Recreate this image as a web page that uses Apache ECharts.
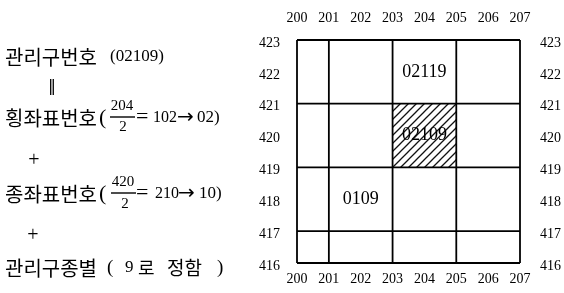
<!DOCTYPE html>
<html>
<head>
<meta charset="utf-8">
<script src="https://cdn.jsdelivr.net/npm/echarts@6/dist/echarts.min.js"></script>
<style>
html,body{margin:0;padding:0;background:#fff;}
#chart{width:564px;height:293px;}
</style>
</head>
<body>
<div id="chart"></div>
<script>
// 좌표 눈금
var xTicks = [200, 201, 202, 203, 204, 205, 206, 207];
var yTicks = [416, 417, 418, 419, 420, 421, 422, 423];
// 구획선 위치
var vLines = [200, 201, 203, 205, 207];
var hLines = [416, 417, 419, 421, 423];
// 빗금 칸 [x0, y0, x1, y1]
var hatchCell = [[203, 419, 205, 421]];
// 칸 번호 [x, y, 번호]
var cellLabels = [[204, 422, '02119'], [204, 420, '02109'], [202, 418, '0109']];

var xMin = xTicks[0], xMax = xTicks[xTicks.length - 1];
var yMin = yTicks[0], yMax = yTicks[yTicks.length - 1];

var serif = '"Liberation Serif", "Noto Sans CJK KR", serif';
var kr = '"Noto Sans CJK KR", sans-serif';
var sym = '"DejaVu Sans", sans-serif';
var ink = '#000';

function hatchImg() {
    var c = document.createElement('canvas');
    c.width = 8; c.height = 8;
    var g = c.getContext('2d');
    g.strokeStyle = '#111';
    g.lineWidth = 1.3;
    g.beginPath();
    g.moveTo(0, 8); g.lineTo(8, 0);
    g.moveTo(-2, 2); g.lineTo(2, -2);
    g.moveTo(6, 10); g.lineTo(10, 6);
    g.stroke();
    return c;
}

var chart = echarts.init(document.getElementById('chart'));

var lineStyle = { color: ink, width: 1.8 };
var series = [];
series.push({
    type: 'custom',
    silent: true,
    z: 1,
    renderItem: function (params, api) {
        var p0 = api.coord([api.value(0), api.value(3)]);
        var p1 = api.coord([api.value(2), api.value(1)]);
        return {
            type: 'rect',
            shape: { x: p0[0], y: p0[1], width: p1[0] - p0[0], height: p1[1] - p0[1] },
            style: { fill: { image: hatchImg(), repeat: 'repeat' } }
        };
    },
    encode: { x: [0, 2], y: [1, 3] },
    data: hatchCell
});
vLines.forEach(function (x) {
    series.push({ type: 'line', silent: true, symbol: 'none', z: 3, lineStyle: lineStyle, data: [[x, yMin], [x, yMax]] });
});
hLines.forEach(function (y) {
    series.push({ type: 'line', silent: true, symbol: 'none', z: 3, lineStyle: lineStyle, data: [[xMin, y], [xMax, y]] });
});
series.push({
    type: 'scatter',
    silent: true,
    symbolSize: 1,
    z: 4,
    itemStyle: { color: 'rgba(0,0,0,0)', opacity: 1 },
    label: {
        show: true,
        position: 'inside',
        formatter: function (p) { return p.value[2]; },
        fontFamily: serif,
        fontSize: 18,
        color: ink
    },
    data: cellLabels
});

function axisX(pos, margin) {
    return {
        type: 'value', position: pos, min: xMin, max: xMax, interval: 1,
        axisLine: { show: false }, axisTick: { show: false }, splitLine: { show: false },
        axisLabel: { margin: margin, fontFamily: serif, fontSize: 14, color: ink }
    };
}
function axisY(pos, margin) {
    return {
        type: 'value', position: pos, min: yMin, max: yMax, interval: 1,
        axisLine: { show: false }, axisTick: { show: false }, splitLine: { show: false },
        axisLabel: { margin: margin, fontFamily: serif, fontSize: 14, color: ink, verticalAlign: 'top', lineHeight: 6 }
    };
}

function t(x, y, s, size, font, align) {
    return {
        type: 'text', x: x, y: y,
        style: { text: s, font: size + 'px ' + font, fill: ink, align: align || 'left', verticalAlign: 'middle' }
    };
}
function bar(x1, x2, y) {
    return { type: 'line', shape: { x1: x1, y1: y, x2: x2, y2: y }, style: { stroke: ink, lineWidth: 1.4 } };
}

var graphic = [
    // 1행
    t(5, 57, '관리구번호', 20, kr),
    t(110, 57, '(02109)', 17, serif),
    t(52, 87, '‖', 16, sym, 'center'),
    // 2행
    t(5, 118, '횡좌표번호', 20, kr),
    t(99, 118, '(', 22, serif),
    t(122, 106, '204', 15, serif, 'center'),
    bar(110, 135, 117),
    t(123, 127, '2', 15, serif, 'center'),
    t(136, 117, '=', 22, serif),
    t(153, 118, '102', 16, serif),
    t(177, 118, '→', 20, sym),
    t(197, 118, '02)', 17, serif),
    t(34, 161, '+', 20, serif, 'center'),
    // 3행
    t(5, 194, '종좌표번호', 20, kr),
    t(99, 194, '(', 22, serif),
    t(123, 182, '420', 15, serif, 'center'),
    bar(111, 136, 193),
    t(125, 204, '2', 15, serif, 'center'),
    t(136, 193, '=', 22, serif),
    t(155, 194, '210', 16, serif),
    t(178, 194, '→', 20, sym),
    t(199, 194, '10)', 17, serif),
    t(33, 236, '+', 20, serif, 'center'),
    // 4행
    t(5, 268, '관리구종별', 20, kr),
    t(107, 268, '(', 19, serif),
    t(125, 268, '9', 17, serif),
    t(138, 268, '로', 18, kr),
    t(167, 268, '정함', 19, kr),
    t(217, 268, ')', 19, serif)
];

var option = {
    backgroundColor: '#fff',
    animation: false,
    grid: { left: 297, right: 42, top: 40, bottom: 30 },
    xAxis: [axisX('bottom', 9), axisX('top', 15)],
    yAxis: [axisY('left', 17), axisY('right', 20)],
    graphic: graphic,
    series: series
};
chart.setOption(option);
</script>
</body>
</html>
